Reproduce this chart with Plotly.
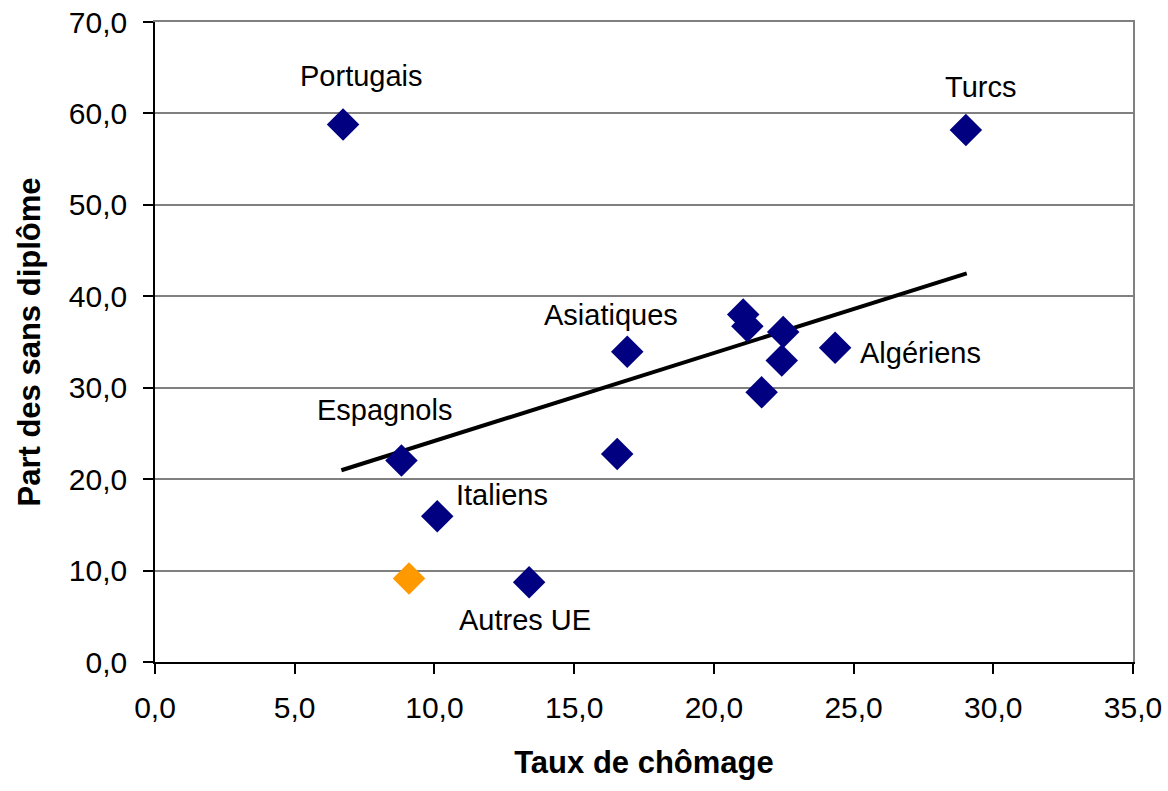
import plotly.graph_objects as go

# Data: unemployment rate (x) vs share without diploma (y)
chomage = [6.73, 29.02, 16.9, 24.34, 21.05, 21.2, 22.48, 22.43, 21.71, 16.54,
           8.82, 10.1, 13.39]
sans_diplome = [58.8, 58.2, 33.93, 34.37, 38.0, 36.73, 36.1, 32.98, 29.5, 22.76,
                22.03, 15.94, 8.71]
point_names = ["Portugais", "Turcs", "Asiatiques", "Algériens", "", "", "", "", "",
               "", "Espagnols", "Italiens", "Autres UE"]

# Highlighted point (orange)
highlight_x = [9.09]
highlight_y = [9.12]

# Trend line endpoints
trend_x = [6.67, 29.05]
trend_y = [20.97, 42.5]

# Label offsets (pixels) for named points
label_shift = {
    "Portugais": (18, 48),
    "Turcs": (15, 43),
    "Asiatiques": (-16, 37),
    "Algériens": (85, -5),
    "Espagnols": (-17, 51),
    "Italiens": (65, 21),
    "Autres UE": (-4, -38),
}

x_ticks = [0, 5, 10, 15, 20, 25, 30, 35]
y_ticks = [0, 10, 20, 30, 40, 50, 60, 70]

def fr(v):
    return f"{v:.1f}".replace(".", ",")

FONT = "Liberation Sans, Arial, sans-serif"
GRID = "#808080"

fig = go.Figure()

fig.add_trace(go.Scatter(
    x=trend_x, y=trend_y, mode="lines",
    line=dict(color="black", width=4), hoverinfo="skip", showlegend=False))

fig.add_trace(go.Scatter(
    x=chomage, y=sans_diplome, mode="markers",
    marker=dict(symbol="diamond", size=25, color="#000080", line=dict(width=0)),
    showlegend=False))

fig.add_trace(go.Scatter(
    x=highlight_x, y=highlight_y, mode="markers",
    marker=dict(symbol="diamond", size=25, color="#FF9900", line=dict(width=0)),
    showlegend=False))

for nm, xv, yv in zip(point_names, chomage, sans_diplome):
    if nm:
        dx, dy = label_shift[nm]
        fig.add_annotation(x=xv, y=yv, text=nm, showarrow=False,
                           xshift=dx, yshift=dy,
                           font=dict(family=FONT, size=29, color="black"))

fig.update_xaxes(
    range=[0, 35], tickvals=x_ticks, ticktext=[fr(v) for v in x_ticks],
    showgrid=False, zeroline=False, automargin=False,
    showline=True, linecolor="black", linewidth=1.5,
    ticks="outside", ticklen=10, tickwidth=1.5, tickcolor="black",
    ticklabelstandoff=8, ticklabeloverflow="allow",
    tickfont=dict(family=FONT, size=30, color="black"),
    title=dict(text="<b>Taux de chômage</b>", standoff=29,
               font=dict(family=FONT, size=31, color="black")),
)
fig.update_yaxes(
    range=[0, 70], tickvals=y_ticks, ticktext=[fr(v) for v in y_ticks],
    showgrid=True, gridcolor=GRID, gridwidth=1.5, zeroline=False,
    automargin=False,
    showline=True, linecolor="black", linewidth=1.5,
    ticks="outside", ticklen=10, tickwidth=1.5, tickcolor="black",
    ticklabelstandoff=10, ticklabeloverflow="allow",
    tickfont=dict(family=FONT, size=30, color="black"),
    title=dict(text="<b>Part des sans diplôme</b>", standoff=19,
               font=dict(family=FONT, size=31, color="black")),
)

# gray frame on top and right of the plot area (overlay axes)
fig.update_layout(
    xaxis2=dict(overlaying="x", side="top", range=[0, 35], showline=True,
                linecolor=GRID, linewidth=2, showgrid=False, zeroline=False,
                showticklabels=False, ticks="", automargin=False),
    yaxis2=dict(overlaying="y", side="right", range=[0, 70], showline=True,
                linecolor=GRID, linewidth=1.5, showgrid=False, zeroline=False,
                showticklabels=False, ticks="", automargin=False),
)
fig.add_trace(go.Scatter(x=[None], y=[None], xaxis="x2", yaxis="y2",
                         mode="markers", hoverinfo="skip", showlegend=False))

fig.update_layout(
    width=1168, height=791,
    margin=dict(l=155, r=35, t=22, b=129),
    plot_bgcolor="white", paper_bgcolor="white",
    showlegend=False,
)

# remove the default 8px body margin of the page
fig.write_html("out.html",
               config={"displayModeBar": False},
               post_script="document.body.style.margin='0';"
                           "document.body.style.overflow='hidden';")
